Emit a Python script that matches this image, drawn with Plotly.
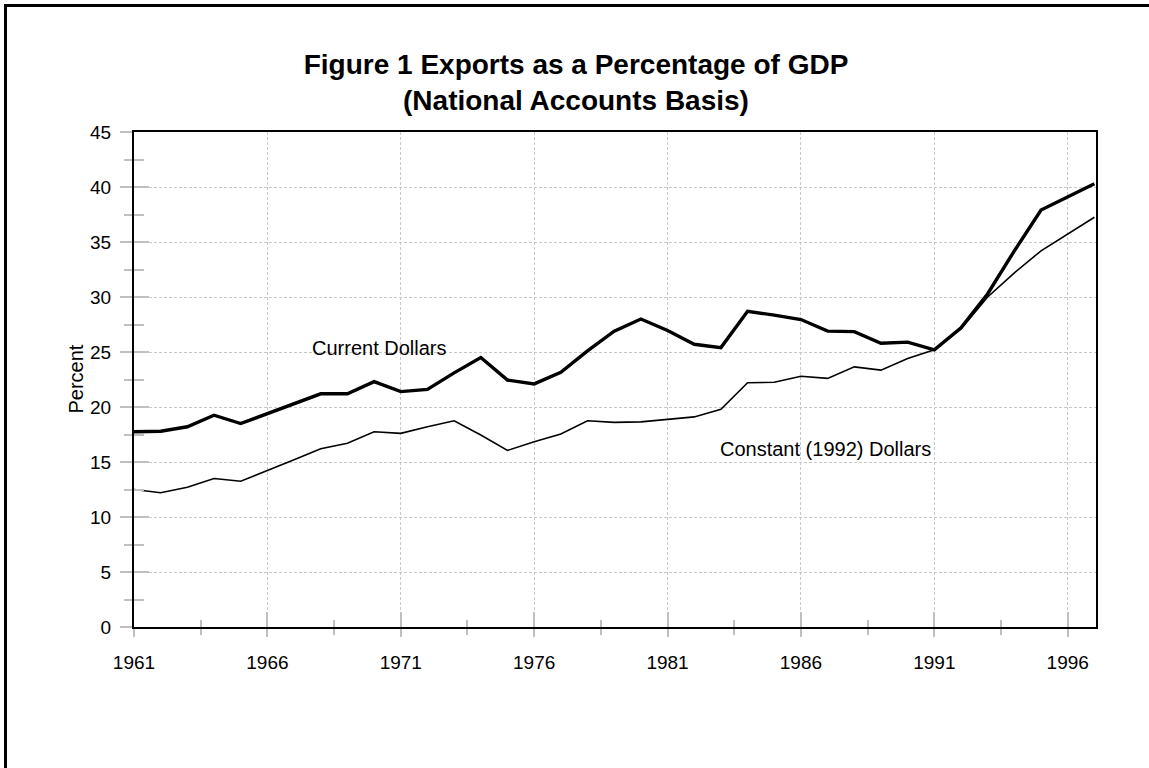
import plotly.graph_objects as go

years = list(range(1961, 1998))
current_dollars = [17.75, 17.8, 18.2, 19.25, 18.5, 19.4, 20.3, 21.2, 21.2, 22.3,
                   21.4, 21.6, 23.1, 24.5, 22.45, 22.1, 23.15, 25.1, 26.9, 28.0,
                   26.95, 25.7, 25.4, 28.7, 28.35, 27.95, 26.9, 26.85, 25.8, 25.9,
                   25.2, 27.2, 30.3, 34.2, 37.9, 39.1, 40.3]
constant_dollars = [12.5, 12.2, 12.7, 13.5, 13.25, 14.2, 15.2, 16.2, 16.7, 17.75,
                    17.6, 18.2, 18.75, 17.45, 16.05, 16.85, 17.55, 18.75, 18.6, 18.65,
                    18.85, 19.1, 19.8, 22.2, 22.25, 22.8, 22.6, 23.65, 23.35, 24.4,
                    25.2, 27.1, 30.0, 32.2, 34.2, 35.7, 37.25]

FONT = "Arial, Liberation Sans, sans-serif"
TICKC = "#c0c0c0"
GRIDC = "#c8c8c8"
XR = [1961, 1997.06]
YR = [0, 45]
W, H = 1149, 768

fig = go.Figure()
fig.add_trace(go.Scatter(x=years, y=constant_dollars, mode="lines",
                         line=dict(color="black", width=1.6),
                         name="Constant (1992) Dollars", hoverinfo="skip"))
fig.add_trace(go.Scatter(x=years, y=current_dollars, mode="lines",
                         line=dict(color="black", width=3.4),
                         name="Current Dollars", hoverinfo="skip"))
# empty trace to attach the overlay axes used for the inner half of the crossing ticks
fig.add_trace(go.Scatter(x=[], y=[], xaxis="x2", yaxis="y2", showlegend=False,
                         hoverinfo="skip"))

fig.update_layout(
    width=W, height=H,
    margin=dict(l=134, r=53, t=132, b=141),
    paper_bgcolor="white", plot_bgcolor="white",
    showlegend=False,
    font=dict(family=FONT, color="black", size=19),
    title=dict(text="<b>Figure 1 Exports as a Percentage of GDP<br>(National Accounts Basis)</b>",
               x=576 / W, xanchor="center", xref="container",
               y=1 - 74 / H, yref="container", yanchor="middle",
               font=dict(family=FONT, size=28, color="black")),
    xaxis=dict(range=XR, tickmode="linear", tick0=1961, dtick=5,
               showgrid=True, gridcolor=GRIDC, gridwidth=1, griddash="3px,2px",
               showline=True, linecolor="black", linewidth=2, mirror=True,
               ticks="outside", ticklen=8, tickwidth=2, tickcolor=TICKC,
               minor=dict(tick0=1961, dtick=2.5, ticks="outside", ticklen=6,
                          tickwidth=2, tickcolor=TICKC, showgrid=False),
               tickfont=dict(family=FONT, size=19, color="black"),
               ticklabelstandoff=9, zeroline=False, fixedrange=True),
    yaxis=dict(range=YR, tickmode="linear", tick0=0, dtick=5,
               showgrid=True, gridcolor=GRIDC, gridwidth=1, griddash="3px,2px",
               showline=True, linecolor="black", linewidth=2, mirror=True,
               ticks="outside", ticklen=12, tickwidth=2, tickcolor=TICKC,
               minor=dict(tick0=0, dtick=2.5, ticks="outside", ticklen=8,
                          tickwidth=2, tickcolor=TICKC, showgrid=False),
               tickfont=dict(family=FONT, size=19, color="black"),
               ticklabelstandoff=5, zeroline=False, fixedrange=True),
    xaxis2=dict(range=XR, overlaying="x", anchor="y2", side="bottom",
                tickmode="linear", tick0=1961, dtick=5,
                ticks="inside", ticklen=15, tickwidth=2, tickcolor=TICKC,
                minor=dict(tick0=1961, dtick=2.5, ticks="inside", ticklen=7,
                           tickwidth=2, tickcolor=TICKC, showgrid=False),
                showticklabels=False, showgrid=False, showline=False,
                zeroline=False, fixedrange=True),
    yaxis2=dict(range=YR, overlaying="y", anchor="x2", side="left",
                tickmode="linear", tick0=0, dtick=5,
                ticks="inside", ticklen=15, tickwidth=2, tickcolor=TICKC,
                minor=dict(tick0=0, dtick=2.5, ticks="inside", ticklen=10,
                           tickwidth=2, tickcolor=TICKC, showgrid=False),
                showticklabels=False, showgrid=False, showline=False,
                zeroline=False, fixedrange=True),
    annotations=[
        dict(text="Current Dollars", x=1970.18, y=25.36, xref="x", yref="y",
             showarrow=False, xanchor="center", yanchor="middle",
             font=dict(family=FONT, size=20, color="black")),
        dict(text="Constant (1992) Dollars", x=1986.92, y=16.15, xref="x", yref="y",
             showarrow=False, xanchor="center", yanchor="middle",
             font=dict(family=FONT, size=20, color="black")),
        dict(text="Percent", x=(75 - 134) / 962, y=0.5, xref="paper", yref="paper",
             showarrow=False, textangle=-90, xanchor="center", yanchor="middle",
             font=dict(family=FONT, size=20, color="black")),
    ],
    shapes=[
        dict(type="rect", xref="paper", yref="paper",
             x0=(5.5 - 134) / 962, x1=(1160 - 134) / 962,
             y0=(627 - 790) / 495, y1=(627 - 5.5) / 495,
             line=dict(color="black", width=3), fillcolor="rgba(0,0,0,0)",
             layer="above"),
    ],
)

fig.write_html("out.html",
               config={"displayModeBar": False, "staticPlot": True},
               post_script="document.body.style.margin='0';document.body.style.overflow='hidden';")
